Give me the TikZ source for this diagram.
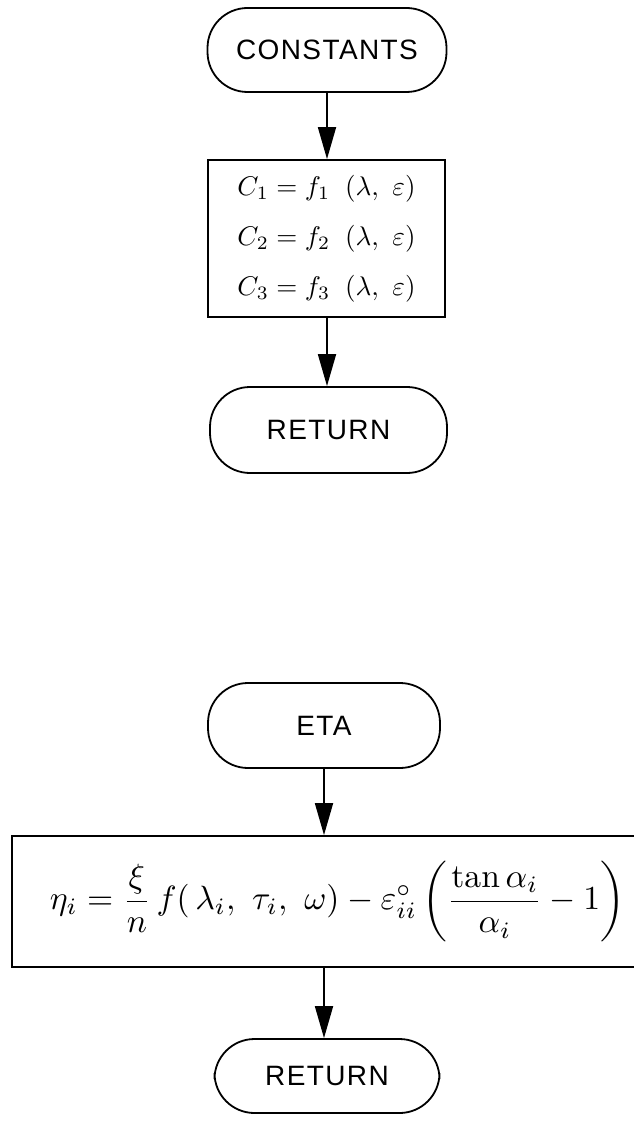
\documentclass[tikz,border=0pt]{standalone}
\usepackage{fontspec}
\usepackage{graphicx}
\usetikzlibrary{arrows.meta}
\newfontfamily\lettering[LetterSpace=5]{Liberation Sans}
\begin{document}
\begin{tikzpicture}[x=1pt,y=-1pt,
  term/.style={draw, line width=1.8pt, rounded corners=40pt, inner sep=0pt,
    font=\lettering\fontsize{28}{28}\selectfont},
  procbox/.style={draw, line width=1.8pt, inner sep=0pt},
  flow/.style={draw, line width=1.8pt, -{Triangle[length=32pt,width=18pt]}}]
\useasboundingbox (0,0) rectangle (633,1123);
\fill[white] (0,0) rectangle (633,1123);
% upper chart
\node[term, minimum width=239pt, minimum height=84pt] (cons) at (327,50) {CONSTANTS};
\node[procbox, minimum width=237pt, minimum height=157pt, align=left,
      font=\fontsize{10}{50}\selectfont] (cbox) at (326.5,238.5)
  {\scalebox{2.7}{$C_1 = f_1\;\;(\lambda,\ \varepsilon)$}\\
   \scalebox{2.7}{$C_2 = f_2\;\;(\lambda,\ \varepsilon)$}\\
   \scalebox{2.7}{$C_3 = f_3\;\;(\lambda,\ \varepsilon)$}};
\node[term, minimum width=237pt, minimum height=86pt] (ret1) at (328.5,430) {RETURN};
\draw[flow] (cons.south) -- (cons.south |- cbox.north);
\draw[flow] (cons.south |- cbox.south) -- (cons.south |- ret1.north);
% lower chart
\node[term, minimum width=232pt, minimum height=85pt] (eta) at (324,725.5) {ETA};
\node[procbox, minimum width=651pt, minimum height=131pt] (etabox) at (337.5,901.5)
  {\resizebox{575pt}{!}{$\displaystyle \eta_i = \frac{\xi}{n}\, f(\,\lambda_i,\ \tau_i,\ \omega) - \varepsilon^{\circ}_{ii}\left(\frac{\tan\alpha_i}{\alpha_i} - 1\right)$}};
\node[term, minimum width=225pt, minimum height=74pt] (ret2) at (327,1076) {RETURN};
\draw[flow] (eta.south) -- (eta.south |- etabox.north);
\draw[flow] (eta.south |- etabox.south) -- (eta.south |- ret2.north);
\end{tikzpicture}
\end{document}
